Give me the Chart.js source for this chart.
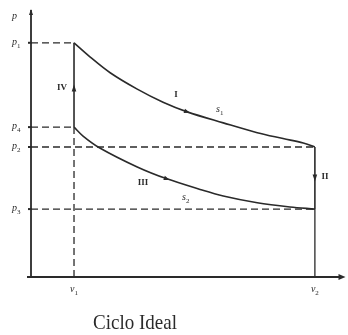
<!DOCTYPE html>
<html>
<head>
<meta charset="utf-8">
<script src="https://cdn.jsdelivr.net/npm/chart.js@4"></script>
<style>
  html, body { margin: 0; padding: 0; background: #fff; }
  #wrap { position: relative; width: 348px; height: 335px; }
</style>
</head>
<body>
<div id="wrap"><canvas id="c" width="348" height="335"></canvas></div>
<script>
// State volumes and pressures of the ideal cycle
const vStates = { v1: 1, v2: 6.6 };
const pStates = { p1: 100, p4: 64, p2: 55.5, p3: 29 };

// Expansion curve I (p1 -> p2), sampled values
const expV = [1, 1.37, 1.84, 2.47, 3.07, 3.63, 4.47, 5.26, 5.86, 6.33, 6.6];
const expP = [100, 94.0, 87.2, 80.2, 74.6, 70.5, 65.8, 61.6, 59.1, 57.2, 55.5];

// Curve III (p4 -> p3), sampled values
const cmpV = [1, 1.21, 1.6, 2.47, 3.16, 3.93, 4.47, 5.26, 6.02, 6.6];
const cmpP = [64, 60.2, 55.1, 47.0, 41.9, 37.4, 34.6, 31.7, 29.9, 29.0];

// Axis labels
const pTickNames = ['p1', 'p4', 'p2', 'p3'];
const vTickNames = ['v1', 'v2'];
const title = 'Ciclo Ideal';

const INK = '#2a2a2a';
const DASH = [7, 4];

const pts = (xs, ys) => xs.map((x, i) => ({ x, y: ys[i] }));

const solid = (data, extra) => Object.assign({
  data, showLine: true, borderColor: INK, borderWidth: 1.6,
  pointRadius: 0, fill: false
}, extra || {});
const dashed = (data) => solid(data, { borderDash: DASH, borderWidth: 1.3 });

const { v1, v2 } = vStates;
const { p1, p4, p2, p3 } = pStates;

const datasets = [
  solid(pts(expV, expP), { tension: 0.35 }),
  solid(pts(cmpV, cmpP), { tension: 0.35 }),
  solid([{ x: v1, y: p4 }, { x: v1, y: p1 }]),
  solid([{ x: v2, y: p2 }, { x: v2, y: p3 }]),
  dashed([{ x: 0, y: p1 }, { x: v1, y: p1 }]),
  dashed([{ x: 0, y: p4 }, { x: v1, y: p4 }]),
  dashed([{ x: 0, y: p2 }, { x: v2, y: p2 }]),
  dashed([{ x: 0, y: p3 }, { x: v2, y: p3 }]),
  dashed([{ x: v1, y: 0 }, { x: v1, y: p4 }]),
  solid([{ x: v2, y: 0 }, { x: v2, y: p3 }], { borderWidth: 1.3 })
];

function arrowHead(ctx, x, y, ang, len, half) {
  ctx.save();
  ctx.translate(x, y);
  ctx.rotate(ang);
  ctx.beginPath();
  ctx.moveTo(len / 2, 0);
  ctx.lineTo(-len / 2, -half);
  ctx.lineTo(-len / 2, half);
  ctx.closePath();
  ctx.fill();
  ctx.restore();
}

function subLabel(ctx, base, sub, x, y) {
  ctx.font = 'italic 10px "Liberation Serif", serif';
  ctx.textAlign = 'left';
  ctx.textBaseline = 'alphabetic';
  ctx.fillText(base, x, y);
  const w = ctx.measureText(base).width;
  if (sub) {
    ctx.font = '7px "Liberation Serif", serif';
    ctx.fillText(sub, x + w, y + 3);
  }
}

function roman(ctx, txt, x, y) {
  ctx.font = 'bold 9px "Liberation Serif", serif';
  ctx.textAlign = 'center';
  ctx.textBaseline = 'middle';
  ctx.fillText(txt, x, y);
}

const decor = {
  id: 'decor',
  afterDatasetsDraw(chart) {
    const { ctx, scales: { x, y }, chartArea: a } = chart;
    const X = v => x.getPixelForValue(v), Y = v => y.getPixelForValue(v);
    ctx.save();
    ctx.fillStyle = INK;
    ctx.strokeStyle = INK;

    // axes
    ctx.lineWidth = 1.8;
    ctx.beginPath();
    ctx.moveTo(a.left, a.bottom + 1);
    ctx.lineTo(a.left, a.top);
    ctx.moveTo(a.left - 4, a.bottom);
    ctx.lineTo(a.right - 4, a.bottom);
    ctx.stroke();
    arrowHead(ctx, a.right - 3, a.bottom, 0, 7, 3);
    arrowHead(ctx, a.left, a.top + 2, -Math.PI / 2, 6, 2);

    // small ticks on the p axis
    ctx.lineWidth = 2;
    [p1, p4, p2, p3].forEach(p => {
      ctx.beginPath();
      ctx.moveTo(a.left - 3, Y(p));
      ctx.lineTo(a.left + 1, Y(p));
      ctx.stroke();
    });

    // process direction arrows
    const along = (xs, ys, i) => {
      const ang = Math.atan2(Y(ys[i + 1]) - Y(ys[i - 1]), X(xs[i + 1]) - X(xs[i - 1]));
      arrowHead(ctx, X(xs[i]), Y(ys[i]), ang, 6, 2.2);
    };
    along(expV, expP, 5);
    along(cmpV, cmpP, 4);
    arrowHead(ctx, X(v1), Y((p1 + p4) / 2) + 3, -Math.PI / 2, 7, 2.3);
    arrowHead(ctx, X(v2), Y((p2 + p3) / 2), Math.PI / 2, 7, 2.3);

    // process names
    roman(ctx, 'I', 176, 95);
    roman(ctx, 'II', 325, 177);
    roman(ctx, 'III', 143, 183);
    roman(ctx, 'IV', 62, 88);
    subLabel(ctx, 's', '1', 216, 112);
    subLabel(ctx, 's', '2', 182, 200);

    // axis labels
    subLabel(ctx, 'p', '', 12, 19);
    const pVals = [p1, p4, p2, p3];
    pTickNames.forEach((n, i) => subLabel(ctx, n[0], n.slice(1), 12, Y(pVals[i]) + 2));
    const vVals = [v1, v2];
    vTickNames.forEach((n, i) => subLabel(ctx, n[0], n.slice(1), X(vVals[i]) - 4, a.bottom + 15));

    // caption
    ctx.save();
    ctx.font = '19px "Liberation Serif", serif';
    ctx.textAlign = 'center';
    ctx.textBaseline = 'alphabetic';
    ctx.translate(135, 329);
    ctx.scale(1, 1.1);
    ctx.fillText(title, 0, 0);
    ctx.restore();
    ctx.restore();
  }
};

new Chart(document.getElementById('c'), {
  type: 'scatter',
  data: { datasets },
  options: {
    responsive: false,
    animation: false,
    layout: { padding: { left: 31, right: 3, top: 10, bottom: 58 } },
    plugins: { legend: { display: false }, tooltip: { enabled: false } },
    scales: {
      x: { type: 'linear', min: 0, max: 7.3, display: false },
      y: { type: 'linear', min: 0, max: 114, display: false }
    }
  },
  plugins: [decor]
});
</script>
</body>
</html>
